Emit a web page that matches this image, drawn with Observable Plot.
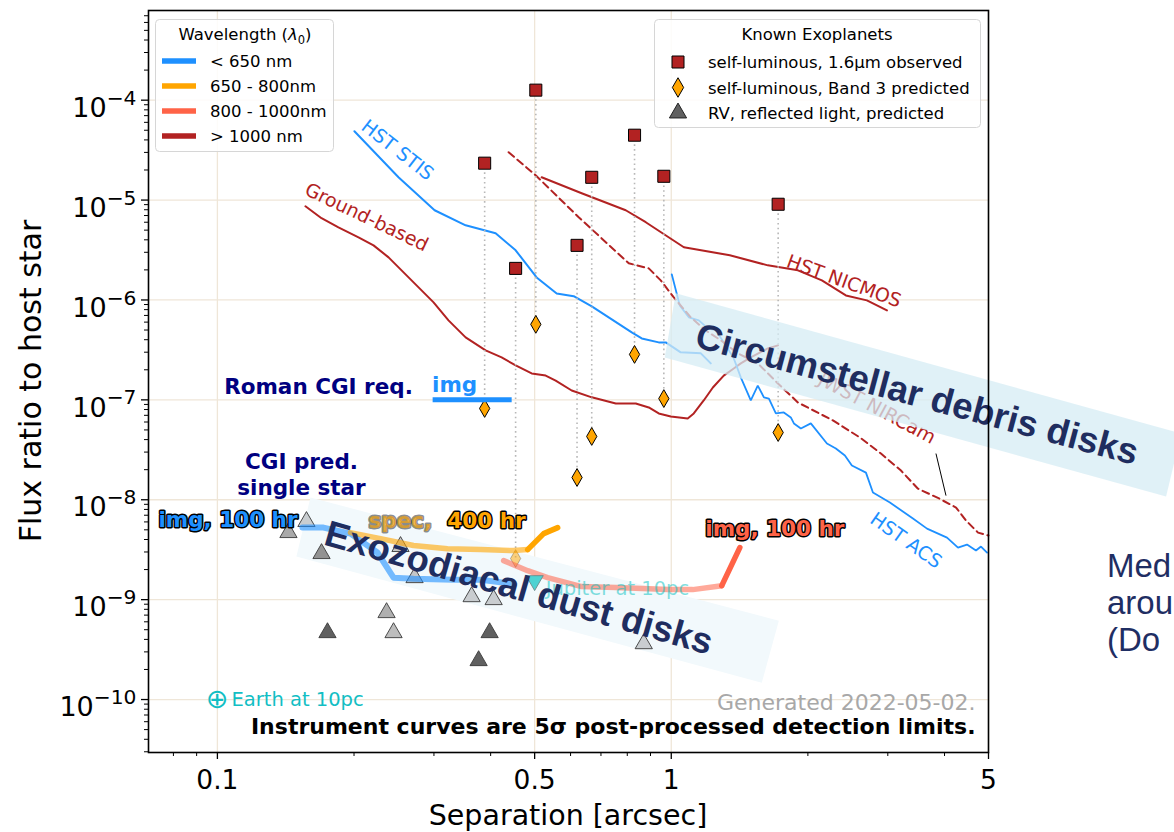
<!DOCTYPE html>
<html>
<head>
<meta charset="utf-8">
<script src="https://cdn.jsdelivr.net/npm/d3@7"></script>
<script src="https://cdn.jsdelivr.net/npm/@observablehq/plot@0.6"></script>
<style>
html, body { margin: 0; padding: 0; background: #fff; overflow: hidden; }
</style>
</head>
<body>
<div id="chart"></div>
<script>
// ---------------- DATA (separation in arcsec, flux ratio to host star) ----------------
// Instrument 5-sigma contrast curves
const groundSep  = [0.1563, 0.1696, 0.1848, 0.2046, 0.2208, 0.2383, 0.2678, 0.2994, 0.3230, 0.3523, 0.3899, 0.4229, 0.4541, 0.4925, 0.5288, 0.5563, 0.6034, 0.6681, 0.7546, 0.8351, 0.8922, 0.9385, 0.9975, 1.087, 1.121, 1.179, 1.235, 1.305, 1.373, 1.423, 1.497, 1.632, 1.718];
const groundFlux = [8.67e-6, 6.58e-6, 5.34e-6, 4.24e-6, 3.52e-6, 2.67e-6, 1.57e-6, 9.46e-7, 6.25e-7, 4.22e-7, 3.13e-7, 2.66e-7, 2.21e-7, 1.84e-7, 1.75e-7, 1.56e-7, 1.24e-7, 1.06e-7, 9.20e-8, 9.20e-8, 8.39e-8, 7.31e-8, 6.82e-8, 6.52e-8, 7.31e-8, 9.86e-8, 1.33e-7, 1.75e-7, 2.06e-7, 2.32e-7, 2.66e-7, 3.27e-7, 3.51e-7];

const stisSep  = [0.2004, 0.2506, 0.3010, 0.3523, 0.4102, 0.4541, 0.5051, 0.5592, 0.6095, 0.6681, 0.8183, 0.8610, 0.9385, 0.9725, 1.049, 1.162, 1.222];
const stisFlux = [4.89e-5, 1.69e-5, 7.91e-6, 5.59e-6, 4.65e-6, 3.14e-6, 1.68e-6, 1.16e-6, 1.09e-6, 8.63e-7, 4.73e-7, 4.12e-7, 3.76e-7, 3.76e-7, 2.99e-7, 2.92e-7, 2.32e-7];

const acsSep  = [1.0025, 1.044, 1.093, 1.150, 1.204, 1.254, 1.319, 1.373, 1.423, 1.497, 1.551, 1.600, 1.641, 1.700, 1.770, 1.834, 1.863, 1.930, 2.030, 2.203, 2.305, 2.413, 2.500, 2.685, 2.782, 3.032, 3.408, 3.660, 4.051, 4.283, 4.483, 4.692, 4.813, 4.963];
const acsFlux = [1.805e-6, 8.83e-7, 6.70e-7, 6.25e-7, 5.19e-7, 4.95e-7, 3.51e-7, 2.60e-7, 1.68e-7, 9.86e-8, 1.39e-7, 1.06e-7, 1.03e-7, 7.31e-8, 7.48e-8, 6.67e-8, 5.81e-8, 5.16e-8, 5.81e-8, 3.66e-8, 3.26e-8, 2.77e-8, 2.20e-8, 1.87e-8, 1.18e-8, 9.38e-9, 6.49e-9, 5.14e-9, 4.18e-9, 3.32e-9, 3.56e-9, 3.10e-9, 3.40e-9, 2.96e-9];

const nicmosSep  = [0.5181, 0.6347, 0.7937, 0.8787, 1.066, 1.346, 1.632, 1.901, 2.147, 2.425, 2.698, 2.987];
const nicmosFlux = [1.69e-5, 1.17e-5, 7.91e-6, 6.00e-6, 3.37e-6, 2.80e-6, 2.22e-6, 1.98e-6, 1.57e-6, 1.11e-6, 9.91e-7, 7.87e-7];

const nircamSep  = [0.4382, 0.5026, 0.6252, 0.8059, 0.8922, 0.9480, 1.013, 1.104, 1.191, 1.286, 1.402, 1.551, 1.718, 1.901, 2.271, 2.604, 2.897, 3.207, 3.496, 3.890, 4.241, 4.461, 4.742, 5.0];
const nircamFlux = [3.01e-5, 1.77e-5, 6.73e-6, 2.33e-6, 2.07e-6, 1.57e-6, 1.06e-6, 6.70e-7, 4.95e-7, 3.94e-7, 2.92e-7, 2.32e-7, 1.46e-7, 9.42e-8, 6.22e-8, 4.20e-8, 2.90e-8, 1.96e-8, 1.29e-8, 1.03e-8, 8.36e-9, 6.19e-9, 4.69e-9, 4.38e-9];

// Roman CGI requirement and predictions
const reqSep  = [0.298, 0.445];
const reqFlux = [1.0e-7, 1.0e-7];
const cgiImgSep  = [0.1539, 0.1713, 0.1964, 0.2253, 0.2444, 0.2705, 0.3314, 0.3802, 0.4427];
const cgiImgFlux = [5.26e-9, 5.26e-9, 4.58e-9, 2.96e-9, 1.66e-9, 1.62e-9, 1.58e-9, 1.58e-9, 1.45e-9];
const cgiSpecSep  = [0.1964, 0.2288, 0.2705, 0.3214, 0.3802, 0.4495, 0.4827];
const cgiSpecFlux = [4.69e-9, 4.08e-9, 3.48e-9, 3.24e-9, 3.17e-9, 3.10e-9, 3.17e-9];
const cgiSpecExtSep  = [0.4827, 0.5234, 0.5620];
const cgiSpecExtFlux = [3.17e-9, 4.58e-9, 5.26e-9];
const cgiRedSep  = [0.4272, 0.4827, 0.5341, 0.6347, 0.7546, 0.9874, 1.115, 1.292];
const cgiRedFlux = [2.46e-9, 1.95e-9, 1.66e-9, 1.35e-9, 1.32e-9, 1.26e-9, 1.26e-9, 1.38e-9];
const cgiRedExtSep  = [1.292, 1.416];
const cgiRedExtFlux = [1.38e-9, 3.32e-9];

// Known exoplanets
const planetSep       = [0.388, 0.454, 0.503, 0.620, 0.668, 0.830, 0.963, 1.72];
const planetObsFlux   = [2.34e-5, 2.07e-6, 1.26e-4, 3.52e-6, 1.69e-5, 4.46e-5, 1.73e-5, 9.08e-6];
const planetBand3Flux = [8.2e-8, 2.58e-9, 5.7e-7, 1.67e-8, 4.3e-8, 2.85e-7, 1.03e-7, 4.71e-8];
const planetBand3Faded = [false, true, false, false, false, false, false, false];

const rvSep   = [0.1571, 0.1434, 0.1696, 0.2532, 0.2719, 0.2359, 0.2444, 0.1748, 0.3632, 0.4061, 0.3979, 0.3763, 0.8697];
const rvFlux  = [6.05e-9, 4.69e-9, 2.89e-9, 3.40e-9, 1.66e-9, 7.41e-10, 4.67e-10, 4.67e-10, 1.07e-9, 1.00e-9, 4.67e-10, 2.45e-10, 3.62e-10];
const rvShade = ["#c9cdd0", "#a9a9a9", "#929292", "#c4c6c8", "#c4c6c8", "#b0b0b0", "#bdbdbd", "#606060", "#c9cdd0", "#c9cdd0", "#606060", "#606060", "#c9cdd0"];

const jupiterSep = [0.5],  jupiterFlux = [1.55e-9];
const earthSep   = [0.1],  earthFlux   = [1.0e-10];

// Disk regions (corners of shaded bands)
const debrisBandSep   = [1.023, 13.29, 12.31, 0.9675];
const debrisBandFlux  = [1.164e-6, 4.60e-8, 1.076e-8, 2.66e-7];
const exozodiBandSep  = [0.1603, 1.726, 1.583, 0.1493];
const exozodiBandFlux = [1.052e-8, 6.16e-10, 1.472e-10, 2.70e-9];

// Curve labels
const curveLabelText  = ["HST STIS", "Ground-based", "HST NICMOS", "HST ACS", "JWST NIRCam"];
const curveLabelSep   = [0.2493, 0.2131, 2.401, 3.289, 2.839];
const curveLabelFlux  = [3.155e-5, 6.73e-6, 1.535e-6, 3.90e-9, 8.20e-8];
const curveLabelAngle = [38, 25.5, 20, 35, 28];
const curveLabelColor = ["#1e90ff", "#b22222", "#b22222", "#1e90ff", "#b22222"];

// Ticks
const xMajorTicks = [0.1, 0.5, 1, 5];
const xMinorTicks = [0.08, 0.09, 0.2, 0.3, 0.4, 0.6, 0.7, 0.8, 0.9, 2, 3, 4];
const yExponents  = [-10, -9, -8, -7, -6, -5, -4];

// Legends
const wavelengthLabels = ["< 650 nm", "650 - 800nm", "800 - 1000nm", "> 1000 nm"];
const wavelengthColors = ["#1e90ff", "orange", "tomato", "firebrick"];
const planetLegendLabels = ["self-luminous, 1.6µm observed", "self-luminous, Band 3 predicted", "RV, reflected light, predicted"];
const slideLines = ["Med", "arou", "(Do"];

// ---------------- BUILD ----------------
const rows = (xs, ys) => xs.map((x, i) => ({x, y: ys[i]}));
const yMajorTicks = yExponents.map(e => Math.pow(10, e));
const yMinorTicks = [];
for (let e = -11; e <= -4; e++) for (let k = 2; k <= 9; k++) {
  const v = k * Math.pow(10, e);
  if (v > 2.95e-11 && v < 7.9e-4) yMinorTicks.push(v);
}
const planets = planetSep.map((s, i) => ({sep: s, obs: planetObsFlux[i], band3: planetBand3Flux[i], faded: planetBand3Faded[i]}));
const rv = rvSep.map((s, i) => ({sep: s, flux: rvFlux[i], shade: rvShade[i]}));
const curveLabels = curveLabelText.map((t, i) => ({text: t, x: curveLabelSep[i], y: curveLabelFlux[i], rotate: curveLabelAngle[i], fill: curveLabelColor[i]}));

const triangleDown = {
  draw(context, size) {
    const y = Math.sqrt(size / (Math.sqrt(3) * 3));
    context.moveTo(0, 2 * y);
    context.lineTo(-Math.sqrt(3) * y, -y);
    context.lineTo(Math.sqrt(3) * y, -y);
    context.closePath();
  }
};

const boldSans = "DejaVu Sans, sans-serif";
const arialBold = "Liberation Sans, Arial, sans-serif";

const plot = Plot.plot({
  width: 1174,
  height: 832,
  marginTop: 10,
  marginRight: 186,
  marginBottom: 80,
  marginLeft: 148,
  x: {type: "log", domain: [0.0705, 5]},
  y: {type: "log", domain: [2.95e-11, 7.9e-4]},
  color: {type: "identity"},
  style: {fontFamily: "DejaVu Sans, sans-serif", background: "white"},
  marks: [
    Plot.gridX(xMajorTicks, {stroke: "#efe6d8", strokeOpacity: 1, strokeWidth: 1.3}),
    Plot.gridY(yMajorTicks, {stroke: "#efe6d8", strokeOpacity: 1, strokeWidth: 1.3}),
    // exozodiacal band (background)
    Plot.line(rows(exozodiBandSep, exozodiBandFlux), {x: "x", y: "y", fill: "#f2f9fc", stroke: "none"}),
    // instrument curves
    Plot.line(rows(groundSep, groundFlux), {x: "x", y: "y", stroke: "#b22222", strokeWidth: 2}),
    Plot.line(rows(stisSep, stisFlux), {x: "x", y: "y", stroke: "#1e90ff", strokeWidth: 2}),
    Plot.line(rows(acsSep, acsFlux), {x: "x", y: "y", stroke: "#1e90ff", strokeWidth: 1.8, strokeLinejoin: "miter"}),
    Plot.line(rows(nicmosSep, nicmosFlux), {x: "x", y: "y", stroke: "#b22222", strokeWidth: 2}),
    Plot.line(rows(nircamSep, nircamFlux), {x: "x", y: "y", stroke: "#b22222", strokeWidth: 2, strokeDasharray: "7,4.5"}),
    Plot.text(curveLabels, {x: "x", y: "y", text: "text", rotate: "rotate", fill: "fill", fontSize: 19}),
    Plot.link([{x1: 3.83, y1: 2.90e-8, x2: 4.03, y2: 1.10e-8}], {x1: "x1", y1: "y1", x2: "x2", y2: "y2", stroke: "black", strokeWidth: 1}),
    // known planets
    Plot.ruleX(planets, {x: "sep", y1: "obs", y2: "band3", stroke: "#b8b8b8", strokeWidth: 1.6, strokeDasharray: "1.6,3.2"}),
    Plot.dot(planets, {x: "sep", y: "obs", symbol: "square", r: 6.8, fill: "#b22222", stroke: "black", strokeWidth: 1}),
    Plot.dot(planets.filter(p => !p.faded), {x: "sep", y: "band3", symbol: "diamond", r: 5.4, fill: "orange", stroke: "black", strokeWidth: 1}),
    Plot.dot(planets.filter(p => p.faded), {x: "sep", y: "band3", symbol: "diamond", r: 5.4, fill: "orange", stroke: "black", strokeWidth: 1, fillOpacity: 0.5, strokeOpacity: 0.25}),
    Plot.dot(rv, {x: "sep", y: "flux", symbol: "triangle", r: 6.4, fill: "shade", stroke: "#3a3a3a", strokeWidth: 0.9}),
    // Roman CGI
    Plot.line(rows(reqSep, reqFlux), {x: "x", y: "y", stroke: "#1e90ff", strokeWidth: 5, strokeLinecap: "butt"}),
    Plot.line(rows(cgiImgSep, cgiImgFlux), {x: "x", y: "y", stroke: "#1e90ff", strokeOpacity: 0.6, strokeWidth: 6}),
    Plot.line(rows(cgiSpecSep, cgiSpecFlux), {x: "x", y: "y", stroke: "orange", strokeOpacity: 0.6, strokeWidth: 5.5}),
    Plot.line(rows(cgiSpecExtSep, cgiSpecExtFlux), {x: "x", y: "y", stroke: "orange", strokeWidth: 5.5}),
    Plot.line(rows(cgiRedSep, cgiRedFlux), {x: "x", y: "y", stroke: "tomato", strokeOpacity: 0.55, strokeWidth: 5.5}),
    Plot.line(rows(cgiRedExtSep, cgiRedExtFlux), {x: "x", y: "y", stroke: "tomato", strokeWidth: 5.5}),
    Plot.text(["Roman CGI req."], {x: 0.1670, y: 1.33e-7, text: d => d, fill: "navy", fontWeight: "bold", fontSize: 21.5, fontFamily: boldSans}),
    Plot.text(["img"], {x: 0.3332, y: 1.39e-7, text: d => d, fill: "#1e90ff", fontWeight: "bold", fontSize: 21.5}),
    Plot.text(["CGI pred."], {x: 0.1532, y: 2.36e-8, text: d => d, fill: "navy", fontWeight: "bold", fontSize: 21.5}),
    Plot.text(["single star"], {x: 0.1532, y: 1.32e-8, text: d => d, fill: "navy", fontWeight: "bold", fontSize: 21.5}),
    Plot.text(["img, 100 hr"], {x: 0.1055, y: 6.19e-9, text: d => d, fill: "#1e90ff", stroke: "black", strokeWidth: 3, paintOrder: "stroke", fontWeight: "bold", fontSize: 21.5}),
    Plot.text(["spec,"], {x: 0.2153, y: 6.05e-9, text: d => d, textAnchor: "start", fill: "orange", stroke: "black", strokeWidth: 3, paintOrder: "stroke", fillOpacity: 0.65, strokeOpacity: 0.45, fontWeight: "bold", fontSize: 21.5}),
    Plot.text(["400 hr"], {x: 0.4776, y: 6.05e-9, text: d => d, textAnchor: "end", fill: "orange", stroke: "black", strokeWidth: 3, paintOrder: "stroke", fontWeight: "bold", fontSize: 21.5}),
    Plot.text(["img, 100 hr"], {x: 1.691, y: 5.14e-9, text: d => d, fill: "tomato", stroke: "black", strokeWidth: 3, paintOrder: "stroke", fontWeight: "bold", fontSize: 21.5}),
    // Solar system analogs
    Plot.dot(rows(jupiterSep, jupiterFlux), {x: "x", y: "y", symbol: triangleDown, r: 6.4, fill: "#4dd2d2", stroke: "#6a8a8a", strokeWidth: 0.9}),
    Plot.text(["Jupiter at 10pc"], {x: 0.5288, y: 1.29e-9, text: d => d, textAnchor: "start", fill: "#00bfbf", fillOpacity: 0.5, fontSize: 19.5}),
    Plot.text(rows(earthSep, earthFlux), {x: "x", y: "y", text: () => "⊕", fill: "#12bec4", fontSize: 27}),
    Plot.text(["Earth at 10pc"], {x: 0.1074, y: 1.0e-10, text: d => d, textAnchor: "start", fill: "#12bec4", fontSize: 19.5}),
    // circumstellar debris band (overlay)
    Plot.line(rows(debrisBandSep, debrisBandFlux), {x: "x", y: "y", fill: "#d6ecf4", fillOpacity: 0.75, stroke: "none"}),
    Plot.text(["Circumstellar debris disks"], {x: 3.477, y: 1.13e-7, text: d => d, rotate: 15, fill: "#1f2d5f", fontWeight: "bold", fontSize: 36.5, fontFamily: arialBold}),
    Plot.text(["Exozodiacal dust disks"], {x: 0.4610, y: 1.30e-9, text: d => d, rotate: 16, fill: "#1f2d5f", fontWeight: "bold", fontSize: 36.5, fontFamily: arialBold}),
    // notes
    Plot.text(["Generated 2022-05-02."], {frameAnchor: "bottom-right", text: d => d, textAnchor: "end", dx: -13, dy: -43, fill: "#a8a8a8", fontSize: 22}),
    Plot.text(["Instrument curves are 5σ post-processed detection limits."], {frameAnchor: "bottom-right", text: d => d, textAnchor: "end", dx: -13, dy: -19, fill: "black", fontWeight: "bold", fontSize: 22}),
    // axes
    Plot.axisX(xMajorTicks, {tickSize: 7, tickPadding: 11, fontSize: 26.5, tickFormat: d => String(d), label: null, strokeWidth: 1.3}),
    Plot.axisX(xMinorTicks, {tickSize: 4, tickFormat: () => "", label: null, strokeWidth: 1}),
    Plot.axisY(yMajorTicks, {tickSize: 7, tickPadding: 5, fontSize: 27, tickFormat: d => String(Math.round(Math.log10(d))), label: null, strokeWidth: 1.3}),
    Plot.axisY(yMinorTicks, {tickSize: 4, tickFormat: () => "", label: null, strokeWidth: 1}),
    Plot.frame({stroke: "black", strokeWidth: 1.6})
  ]
});

document.getElementById("chart").appendChild(plot);

// ---------------- POST-PROCESS: superscript tick labels, axis titles, legends ----------------
const svg = d3.select(plot);
svg.selectAll('g[aria-label="y-axis tick label"] text').each(function () {
  const e = this.textContent;
  if (!e) return;
  const t = d3.select(this);
  t.text("10").attr("dy", "0.3em");
  t.append("tspan").attr("font-size", "0.75em").attr("dy", "-0.6em").text(e.replace("-", "\u2212"));
});

svg.append("text").attr("x", 568).attr("y", 825).attr("text-anchor", "middle")
  .attr("font-family", "DejaVu Sans, sans-serif").attr("font-size", 28.5).attr("fill", "black")
  .text("Separation [arcsec]");
svg.append("text").attr("transform", "translate(41,381) rotate(-90)").attr("text-anchor", "middle")
  .attr("font-family", "DejaVu Sans, sans-serif").attr("font-size", 30).attr("fill", "black")
  .text("Flux ratio to host star");

// Wavelength legend
const lg = svg.append("g").attr("font-family", "DejaVu Sans, sans-serif").attr("font-size", 16.5)
  .attr("fill", "black").attr("text-anchor", "start");
lg.append("rect").attr("x", 155.5).attr("y", 19.5).attr("width", 178).attr("height", 132).attr("rx", 4)
  .attr("fill", "white").attr("fill-opacity", 0.85).attr("stroke", "#d6d6d6");
const lt = lg.append("text").attr("x", 245).attr("y", 40).attr("text-anchor", "middle");
lt.append("tspan").text("Wavelength (");
lt.append("tspan").attr("font-style", "italic").text("λ");
lt.append("tspan").attr("font-size", "11.5px").attr("dy", "3.5").text("0");
lt.append("tspan").attr("dy", "-3.5").text(")");
wavelengthLabels.forEach((lab, i) => {
  const cy = 61 + 25 * i;
  lg.append("line").attr("x1", 162).attr("x2", 196).attr("y1", cy).attr("y2", cy)
    .attr("stroke", wavelengthColors[i]).attr("stroke-width", 5.5);
  lg.append("text").attr("x", 210).attr("y", cy + 6).attr("text-anchor", "start").text(lab);
});

// Known exoplanets legend
const lg2 = svg.append("g").attr("font-family", "DejaVu Sans, sans-serif").attr("font-size", 16.5)
  .attr("fill", "black").attr("text-anchor", "start");
lg2.append("rect").attr("x", 654.5).attr("y", 19.5).attr("width", 326).attr("height", 108).attr("rx", 4)
  .attr("fill", "white").attr("fill-opacity", 0.85).attr("stroke", "#d6d6d6");
lg2.append("text").attr("x", 817).attr("y", 40).attr("text-anchor", "middle").text("Known Exoplanets");
const legSymbols = [
  {type: d3.symbolSquare, size: 144, fill: "#b22222", stroke: "black"},
  {type: d3.symbolDiamond, size: 110, fill: "orange", stroke: "black"},
  {type: d3.symbolTriangle, size: 128, fill: "#606060", stroke: "#222"}
];
planetLegendLabels.forEach((lab, i) => {
  const cy = 62 + 25.5 * i;
  const s = legSymbols[i];
  lg2.append("path").attr("transform", `translate(678,${cy})`).attr("d", d3.symbol(s.type, s.size)())
    .attr("fill", s.fill).attr("stroke", s.stroke).attr("stroke-width", 1);
  lg2.append("text").attr("x", 708).attr("y", cy + 6).attr("text-anchor", "start").text(lab);
});

// Slide text partially visible at right edge
slideLines.forEach((line, i) => {
  svg.append("text").attr("x", 1107).attr("y", 577 + 37 * i).attr("text-anchor", "start")
    .attr("font-family", "Liberation Sans, Arial, sans-serif").attr("font-size", 33).attr("fill", "#1f2e63")
    .text(line);
});
</script>
</body>
</html>
